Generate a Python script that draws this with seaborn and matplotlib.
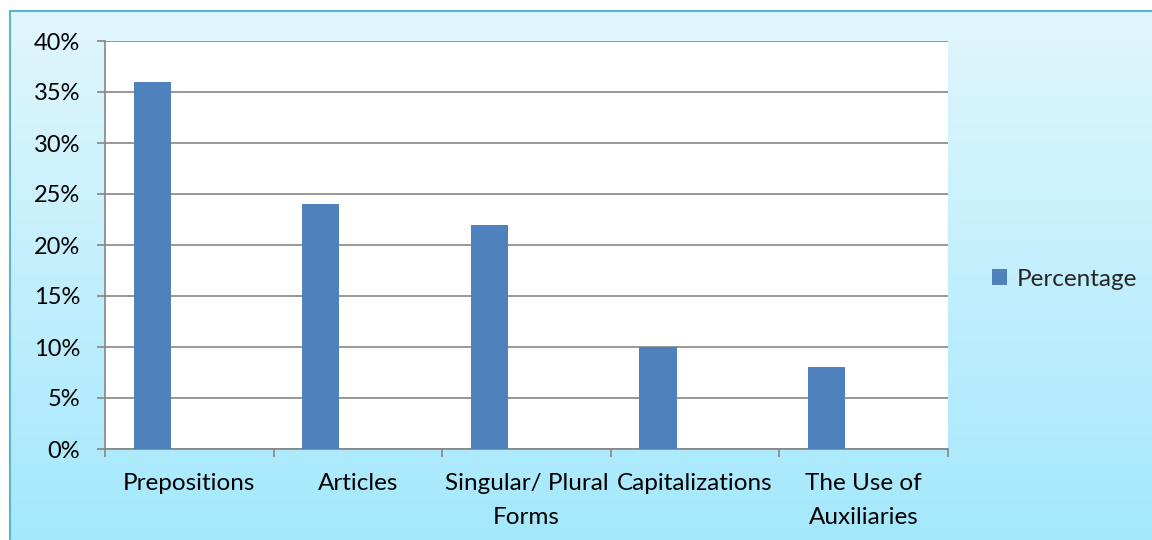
import numpy as np
import pandas as pd
import matplotlib
matplotlib.use("Agg")
import matplotlib.pyplot as plt
import seaborn as sns
from matplotlib.ticker import PercentFormatter, FixedLocator

categories = ["Prepositions", "Articles", "Singular/ Plural\nForms",
              "Capitalizations", "The Use of\nAuxiliaries"]
percentage = [0.36, 0.24, 0.22, 0.10, 0.08]
# Excel chart holds three series, only the first one has values
series_names = ["Percentage", "Series2", "Series3"]
y_ticks = [0, 0.05, 0.10, 0.15, 0.20, 0.25, 0.30, 0.35, 0.40]

df = pd.DataFrame({"Category": categories, "Value": percentage, "Series": "Percentage"})

sns.set_style("white")
plt.rcParams["font.family"] = ["Lato", "DejaVu Sans"]

fig = plt.figure(figsize=(11.52, 5.4), dpi=100)

# gradient background, border only visible on left/top (chart is cropped)
bg = fig.add_axes([10 / 1152, 0, 1 - 10 / 1152, 1 - 11 / 540], zorder=-5)
grad = np.linspace(0, 1, 256).reshape(-1, 1)
top = np.array([225, 246, 253]) / 255
bottom = np.array([164, 232, 252]) / 255
img = top + (bottom - top) * grad[:, :, None] * np.ones((1, 2, 1))
bg.imshow(img, aspect="auto", extent=[0, 1, 0, 1], origin="upper")
bg.set_xticks([])
bg.set_yticks([])
for side, s in bg.spines.items():
    s.set_color("#5bb3cf")
    s.set_linewidth(1.5)
    s.set_visible(side in ("left", "top"))

ax = fig.add_axes([105 / 1152, 1 - 449 / 540, (948 - 105) / 1152, (449 - 41) / 540])
ax.set_facecolor("white")
sns.barplot(data=df, x="Category", y="Value", hue="Series", hue_order=series_names,
            palette=["#4f81bd", "#c0504d", "#9bbb59"], width=0.66, dodge=True,
            saturation=1, linewidth=0, ax=ax, zorder=3)

ax.set_ylim(0, 0.4)
ax.set_xlim(-0.5, len(categories) - 0.5)
ax.yaxis.set_major_locator(FixedLocator(y_ticks))
ax.yaxis.set_major_formatter(PercentFormatter(1.0, decimals=0))
ax.grid(axis="y", color="#868686", linewidth=1.2, zorder=0)
ax.set_axisbelow(True)
ax.set_xlabel("")
ax.set_ylabel("")

for side in ["top", "right"]:
    ax.spines[side].set_visible(False)
for side in ["left", "bottom"]:
    ax.spines[side].set_color("#868686")
    ax.spines[side].set_linewidth(1.2)

ax.tick_params(axis="y", which="major", direction="out", length=6, width=1.2,
               color="#868686", labelsize=17, labelcolor="black", pad=12, left=True)
ax.tick_params(axis="x", which="major", length=0, labelsize=17.5, labelcolor="black", pad=17.5)
for lbl in ax.get_xticklabels():
    lbl.set_linespacing(1.75)
ax.set_xticks(np.arange(-0.5, len(categories)), minor=True)
ax.tick_params(axis="x", which="minor", direction="out", length=6, width=1.2,
               color="#868686", bottom=True)

handles, labels = ax.get_legend_handles_labels()
ax.legend(handles[:1], labels[:1], loc="center left", frameon=False,
          bbox_to_anchor=(992 / 1152, 1 - 279 / 540), bbox_transform=fig.transFigure,
          fontsize=17.5, handlelength=0.6, handleheight=0.6, handletextpad=0.4,
          borderpad=0, borderaxespad=0)

fig.savefig("out.png", dpi=100)
